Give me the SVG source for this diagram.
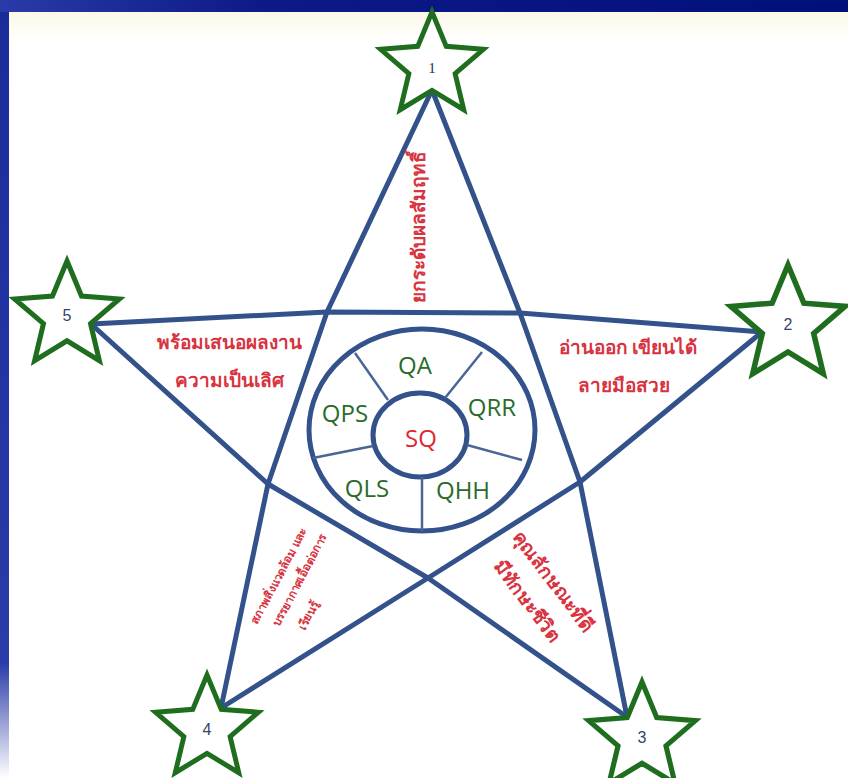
<svg xmlns="http://www.w3.org/2000/svg" width="848" height="778" viewBox="0 0 848 778">
  <defs>
    <linearGradient id="topbar" x1="0" y1="0" x2="1" y2="0">
      <stop offset="0" stop-color="#2a3aa8"/>
      <stop offset="0.3" stop-color="#0c1a8a"/>
      <stop offset="1" stop-color="#00107a"/>
    </linearGradient>
    <linearGradient id="leftbar" x1="0" y1="0" x2="0" y2="1">
      <stop offset="0" stop-color="#1a2c9a"/>
      <stop offset="0.85" stop-color="#2a3ca8"/>
      <stop offset="1" stop-color="#ffffff"/>
    </linearGradient>
    <linearGradient id="cream" x1="0" y1="0" x2="0" y2="1">
      <stop offset="0" stop-color="#fbf8e8"/>
      <stop offset="1" stop-color="#ffffff"/>
    </linearGradient>
    <path id="star" d="M0,-50 L13.2,-18.2 L47.6,-15.5 L21.4,7 L29.4,40.5 L0,22.5 L-29.4,40.5 L-21.4,7 L-47.6,-15.5 L-13.2,-18.2 Z"/>
  </defs>
  <style>
    .star { fill: #ffffff; stroke: #1f6e1f; stroke-width: 4.6; stroke-linejoin: miter; }
    .num { font-family: "Liberation Sans", Arial, sans-serif; font-size: 16px; fill: #34446a; text-anchor: middle; }
    .num1 { font-family: "Liberation Serif", serif; font-size: 15px; fill: #22305a; text-anchor: middle; }
    .pl { fill: none; stroke: #33518a; stroke-width: 5; stroke-linejoin: round; stroke-linecap: round; }
    .ring { fill: none; stroke: #33518a; stroke-width: 5; }
    .spoke { stroke: #4a6696; stroke-width: 2.5; }
    .q { font-family: "Open Sans", "Noto Sans", sans-serif; font-size: 24px; fill: #2a6b2a; text-anchor: middle; }
    .sq { font-family: "Open Sans", "Noto Sans", sans-serif; font-size: 24px; fill: #e2262f; text-anchor: middle; }
    .th { font-family: "Noto Sans", sans-serif; font-weight: bold; font-size: 19px; fill: #d8333f; text-anchor: middle; }
    .ths { font-family: "Noto Sans", sans-serif; font-weight: bold; font-size: 11.5px; fill: #d8333f; text-anchor: middle; }
  </style>

  <!-- background -->
  <rect x="0" y="0" width="848" height="778" fill="#ffffff"/>
  <rect x="0" y="12" width="848" height="30" fill="url(#cream)"/>
  <rect x="0" y="0" width="848" height="12" fill="url(#topbar)"/>
  <rect x="0" y="12" width="9" height="766" fill="url(#leftbar)"/>

  <!-- connectors: pentagram lines -->
  <g id="connectors">
    <polyline class="pl" points="432,90 327,312 268,484 221,708"/>
    <polyline class="pl" points="432,90 520,313 580,482 627,717"/>
    <polyline class="pl" points="91,324 327,312 520,313 762,332"/>
    <polyline class="pl" points="91,324 268,484 428,578 627,717"/>
    <polyline class="pl" points="762,332 580,482 428,578 221,708"/>
  </g>

  <!-- center wheel -->
  <g id="wheel">
    <ellipse class="ring" cx="422" cy="430" rx="113" ry="101"/>
    <ellipse class="ring" cx="420" cy="435" rx="47" ry="42"/>
    <line class="spoke" x1="355" y1="353" x2="388" y2="400"/>
    <line class="spoke" x1="482" y1="352" x2="445" y2="398"/>
    <line class="spoke" x1="467" y1="445" x2="522" y2="460"/>
    <line class="spoke" x1="422" y1="477" x2="422" y2="531"/>
    <line class="spoke" x1="373" y1="446" x2="313" y2="458"/>
  </g>
  <g id="node-QA"><text class="q" x="415" y="374">QA</text></g>
  <g id="node-QRR"><text class="q" x="492" y="416">QRR</text></g>
  <g id="node-QPS"><text class="q" x="345" y="422">QPS</text></g>
  <g id="node-SQ"><text class="sq" x="421" y="447">SQ</text></g>
  <g id="node-QLS"><text class="q" x="367" y="497">QLS</text></g>
  <g id="node-QHH"><text class="q" x="463" y="499">QHH</text></g>

  <!-- stars -->
  <g id="star-1"><use href="#star" class="star" transform="translate(432,66) scale(1.08)"/><text class="num1" x="432" y="73">1</text></g>
  <g id="star-2"><use href="#star" class="star" transform="translate(788,325) scale(1.2)"/><text class="num" x="788" y="330">2</text></g>
  <g id="star-3"><use href="#star" class="star" transform="translate(642,738) scale(1.12)"/><text class="num" x="642" y="743">3</text></g>
  <g id="star-4"><use href="#star" class="star" transform="translate(207,729) scale(1.08)"/><text class="num" x="207" y="735">4</text></g>
  <g id="star-5"><use href="#star" class="star" transform="translate(67,316) scale(1.1)"/><text class="num" x="67" y="321">5</text></g>

  <!-- texts in pentagram points -->
  <g id="point-1"><text class="th" font-size="16" transform="translate(425,227) rotate(-90)">ยกระดับผลสัมฤทธิ์</text></g>
  <g id="point-5">
    <text class="th" x="229" y="349">พร้อมเสนอผลงาน</text>
    <text class="th" x="229" y="387">ความเป็นเลิศ</text>
  </g>
  <g id="point-2">
    <text class="th" x="628" y="354">อ่านออก เขียนได้</text>
    <text class="th" x="624" y="392">ลายมือสวย</text>
  </g>
  <g id="point-3">
    <text class="th" font-size="15" transform="translate(548,585) rotate(53)">คุณลักษณะที่ดี</text>
    <text class="th" font-size="15" transform="translate(522,605) rotate(53)">มีทักษะชีวิต</text>
  </g>
  <g id="point-4">
    <text class="ths" transform="translate(282,578) rotate(-62)">สภาพสิ่งแวดล้อม และ</text>
    <text class="ths" transform="translate(303,582) rotate(-62)">บรรยากาศเอื้อต่อการ</text>
    <text class="ths" transform="translate(312,617) rotate(-62)">เรียนรู้</text>
  </g>
</svg>
